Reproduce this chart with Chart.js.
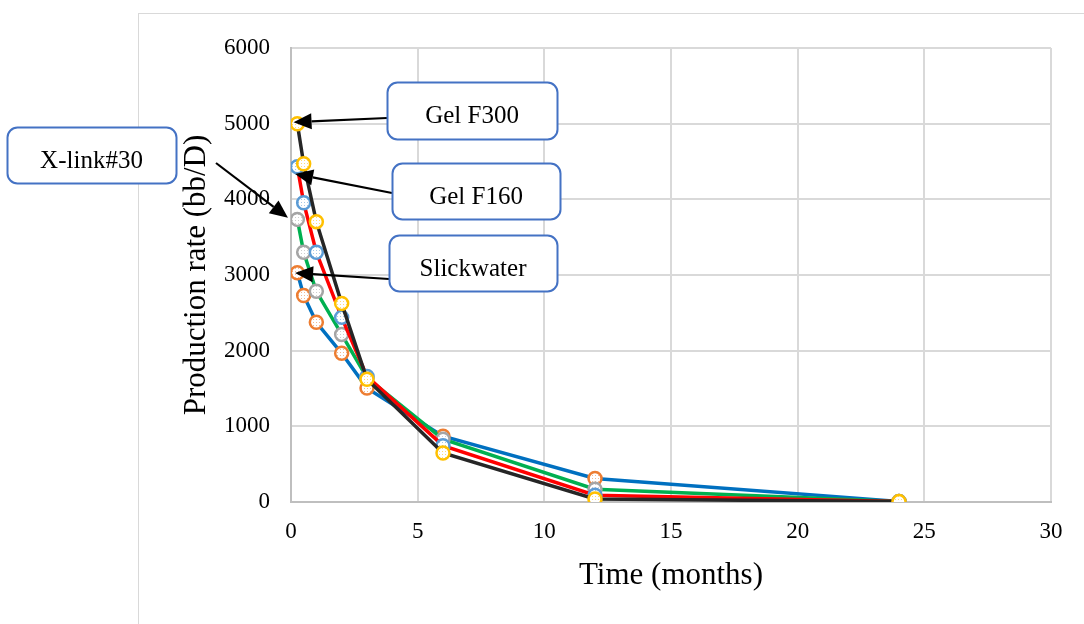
<!DOCTYPE html>
<html>
<head>
    <title>Production rate</title>
    <script src="https://cdn.jsdelivr.net/npm/chart.js"></script>
    <style>
        html, body {
            margin: 0;
            padding: 0;
            background-color: #ffffff;
        }
        canvas {
            display: block;
        }
    </style>
</head>
<body>
    <canvas id="chart" width="1084" height="624"></canvas>
    <script>
        // time in months
        var months = [0.25, 0.5, 1, 2, 3, 6, 12, 24];

        // production rate, bb/D
        var slickwater = [3030, 2730, 2375, 1965, 1505, 870, 310, 8];
        var xlink30    = [3735, 3300, 2785, 2215, 1640, 830, 170, 6];
        var gelF160    = [4430, 3955, 3300, 2440, 1660, 745, 90, 5];
        var gelF300    = [5000, 4470, 3705, 2625, 1622, 648, 40, 5];

        var xTicks = [0, 5, 10, 15, 20, 25, 30];
        var yTicks = [0, 1000, 2000, 3000, 4000, 5000, 6000];

        var serif = "'Liberation Serif', 'Times New Roman', serif";

        // call-out boxes with an arrow to the start of each curve
        var notes = [
            { text: 'Gel F300',   box: [387, 82, 170, 57],  from: [387, 118], tip: [0.1, 5020] },
            { text: 'X-link#30',  box: [7, 127, 169, 56],   from: [216, 163], tip: [-0.12, 3755] },
            { text: 'Gel F160',   box: [392, 163, 168, 56], from: [392, 193], tip: [0.16, 4335] },
            { text: 'Slickwater', box: [389, 235, 168, 56], from: [389, 279], tip: [0.16, 3026] }
        ];

        // white marker fill with a fine dot pattern
        function dots(color) {
            var c = document.createElement('canvas');
            c.width = 3; c.height = 3;
            var g = c.getContext('2d');
            g.fillStyle = '#ffffff';
            g.fillRect(0, 0, 3, 3);
            g.globalAlpha = 0.55;
            g.fillStyle = color;
            g.fillRect(1, 1, 1, 1);
            return g.createPattern(c, 'repeat');
        }

        function series(values, line, marker, order) {
            return {
                data: months.map(function(m, i) { return { x: m, y: values[i] }; }),
                borderColor: line,
                borderWidth: 3.5,
                pointRadius: 6.5,
                pointBorderWidth: 2.5,
                pointBorderColor: marker,
                pointBackgroundColor: dots(marker),
                tension: 0,
                order: order
            };
        }

        function roundRect(ctx, x, y, w, h, r) {
            ctx.beginPath();
            ctx.moveTo(x + r, y);
            ctx.lineTo(x + w - r, y);
            ctx.arcTo(x + w, y, x + w, y + r, r);
            ctx.lineTo(x + w, y + h - r);
            ctx.arcTo(x + w, y + h, x + w - r, y + h, r);
            ctx.lineTo(x + r, y + h);
            ctx.arcTo(x, y + h, x, y + h - r, r);
            ctx.lineTo(x, y + r);
            ctx.arcTo(x, y, x + r, y, r);
            ctx.closePath();
        }

        var frame = {
            id: 'frame',
            beforeDraw: function(chart) {
                var ctx = chart.ctx;
                ctx.save();
                ctx.strokeStyle = '#d9d9d9';
                ctx.lineWidth = 1;
                ctx.strokeRect(138.5, 13.5, 1000, 700);
                ctx.restore();
            }
        };

        var callouts = {
            id: 'callouts',
            afterDraw: function(chart) {
                var ctx = chart.ctx;
                var xs = chart.scales.x, ys = chart.scales.y;
                ctx.save();
                notes.forEach(function(n) {
                    var tx = xs.getPixelForValue(n.tip[0]);
                    var ty = ys.getPixelForValue(n.tip[1]);
                    var fx = n.from[0], fy = n.from[1];
                    var a = Math.atan2(ty - fy, tx - fx);
                    var len = 18, half = 8;
                    var bx = tx - len * Math.cos(a), by = ty - len * Math.sin(a);

                    ctx.strokeStyle = '#000000';
                    ctx.fillStyle = '#000000';
                    ctx.lineWidth = 2.2;
                    ctx.beginPath();
                    ctx.moveTo(fx, fy);
                    ctx.lineTo(bx, by);
                    ctx.stroke();
                    ctx.beginPath();
                    ctx.moveTo(tx, ty);
                    ctx.lineTo(bx + half * Math.sin(a), by - half * Math.cos(a));
                    ctx.lineTo(bx - half * Math.sin(a), by + half * Math.cos(a));
                    ctx.closePath();
                    ctx.fill();

                    var b = n.box;
                    roundRect(ctx, b[0] + 0.5, b[1] + 0.5, b[2], b[3], 10);
                    ctx.fillStyle = '#ffffff';
                    ctx.fill();
                    ctx.strokeStyle = '#4472c4';
                    ctx.lineWidth = 2;
                    ctx.stroke();

                    ctx.fillStyle = '#000000';
                    ctx.font = '25px ' + serif;
                    ctx.textAlign = 'center';
                    ctx.textBaseline = 'middle';
                    ctx.fillText(n.text, b[0] + b[2] / 2, b[1] + b[3] / 2 + 6);
                });
                ctx.restore();
            }
        };

        new Chart(document.getElementById('chart'), {
            type: 'line',
            data: {
                datasets: [
                    series(slickwater, '#0070c0', '#ed7d31', 4),
                    series(xlink30, '#00b050', '#a5a5a5', 3),
                    series(gelF160, '#ff0000', '#5b9bd5', 2),
                    series(gelF300, '#262626', '#ffc000', 1)
                ]
            },
            options: {
                responsive: false,
                animation: false,
                layout: { padding: { left: 160, right: 33, top: 48, bottom: 0 } },
                plugins: {
                    legend: { display: false },
                    tooltip: { enabled: false }
                },
                scales: {
                    x: {
                        type: 'linear',
                        min: 0,
                        max: 30,
                        afterBuildTicks: function(s) { s.ticks = xTicks.map(function(v) { return { value: v }; }); },
                        afterFit: function(s) { s.height = 122; },
                        grid: { color: '#d9d9d9', lineWidth: 2, drawTicks: false },
                        border: { color: '#bfbfbf', width: 2 },
                        ticks: {
                            color: '#000000',
                            padding: 16,
                            font: { family: serif, size: 23 },
                            callback: function(v) { return String(v); }
                        },
                        title: {
                            display: true,
                            text: 'Time (months)',
                            color: '#000000',
                            padding: { top: 0, bottom: 30 },
                            font: { family: serif, size: 31 }
                        }
                    },
                    y: {
                        min: 0,
                        max: 6000,
                        afterBuildTicks: function(s) { s.ticks = yTicks.map(function(v) { return { value: v }; }); },
                        afterFit: function(s) { s.width = 131; },
                        grid: { color: '#d9d9d9', lineWidth: 2, drawTicks: false },
                        border: { color: '#bfbfbf', width: 2 },
                        ticks: {
                            color: '#000000',
                            padding: 21,
                            font: { family: serif, size: 23 },
                            callback: function(v) { return String(v); }
                        },
                        title: {
                            display: true,
                            text: 'Production rate (bb/D)',
                            color: '#000000',
                            padding: { top: 18, bottom: 0 },
                            font: { family: serif, size: 31 }
                        }
                    }
                }
            },
            plugins: [frame, callouts]
        });
    </script>
</body>
</html>
